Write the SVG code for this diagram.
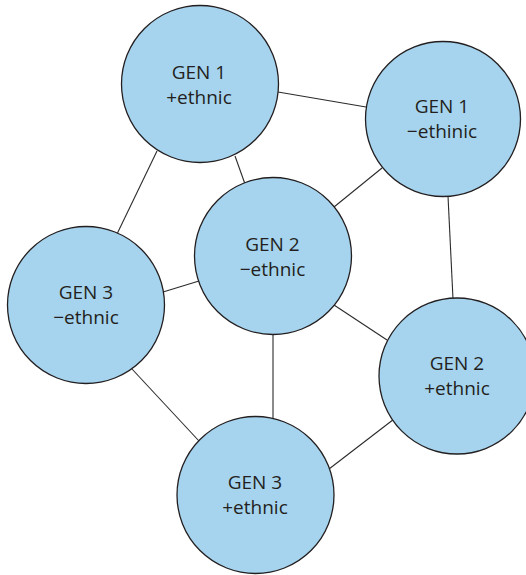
<svg xmlns="http://www.w3.org/2000/svg" width="526" height="575" viewBox="0 0 526 575">
  <style>
    .edge { stroke: #2b2b2b; stroke-width: 1.1; fill: none; }
    .node circle { fill: #a6d4ee; stroke: #231f20; stroke-width: 1.3; }
    .node text { font-family: "Open Sans", "Noto Sans", sans-serif; font-size: 19px; fill: #231f20; text-anchor: middle; }
  </style>
  <rect width="526" height="575" fill="#ffffff"/>

  <!-- connectors, drawn beneath the nodes -->
  <g id="connectors">
    <line class="edge" x1="278" y1="92" x2="366" y2="107"/>
    <line class="edge" x1="157" y1="151" x2="117" y2="234"/>
    <line class="edge" x1="235" y1="156" x2="245" y2="184"/>
    <line class="edge" x1="382" y1="168" x2="334" y2="207"/>
    <line class="edge" x1="448" y1="196" x2="453" y2="299"/>
    <line class="edge" x1="163" y1="292" x2="199" y2="281"/>
    <line class="edge" x1="334" y1="305" x2="387" y2="340"/>
    <line class="edge" x1="273" y1="334" x2="273" y2="420"/>
    <line class="edge" x1="132" y1="369" x2="199" y2="441"/>
    <line class="edge" x1="329" y1="469" x2="398" y2="416"/>
  </g>

  <g id="gen1-plus" class="node">
    <circle cx="200" cy="84" r="78.5"/>
    <text x="199" y="79">GEN 1</text>
    <text x="199" y="103.5">+ethnic</text>
  </g>

  <g id="gen1-minus" class="node">
    <circle cx="443" cy="119" r="77.5"/>
    <text x="442" y="113">GEN 1</text>
    <text x="442" y="138">−ethinic</text>
  </g>

  <g id="gen2-minus" class="node">
    <circle cx="273" cy="256" r="78.5"/>
    <text x="272.5" y="251">GEN 2</text>
    <text x="272.5" y="276">−ethnic</text>
  </g>

  <g id="gen3-minus" class="node">
    <circle cx="86" cy="305" r="78.5"/>
    <text x="86" y="299">GEN 3</text>
    <text x="86" y="324">−ethnic</text>
  </g>

  <g id="gen2-plus" class="node">
    <circle cx="457" cy="376" r="78"/>
    <text x="457" y="370">GEN 2</text>
    <text x="457" y="395">+ethnic</text>
  </g>

  <g id="gen3-plus" class="node">
    <circle cx="255.5" cy="495" r="78.5"/>
    <text x="255" y="488.5">GEN 3</text>
    <text x="255" y="514">+ethnic</text>
  </g>
</svg>
